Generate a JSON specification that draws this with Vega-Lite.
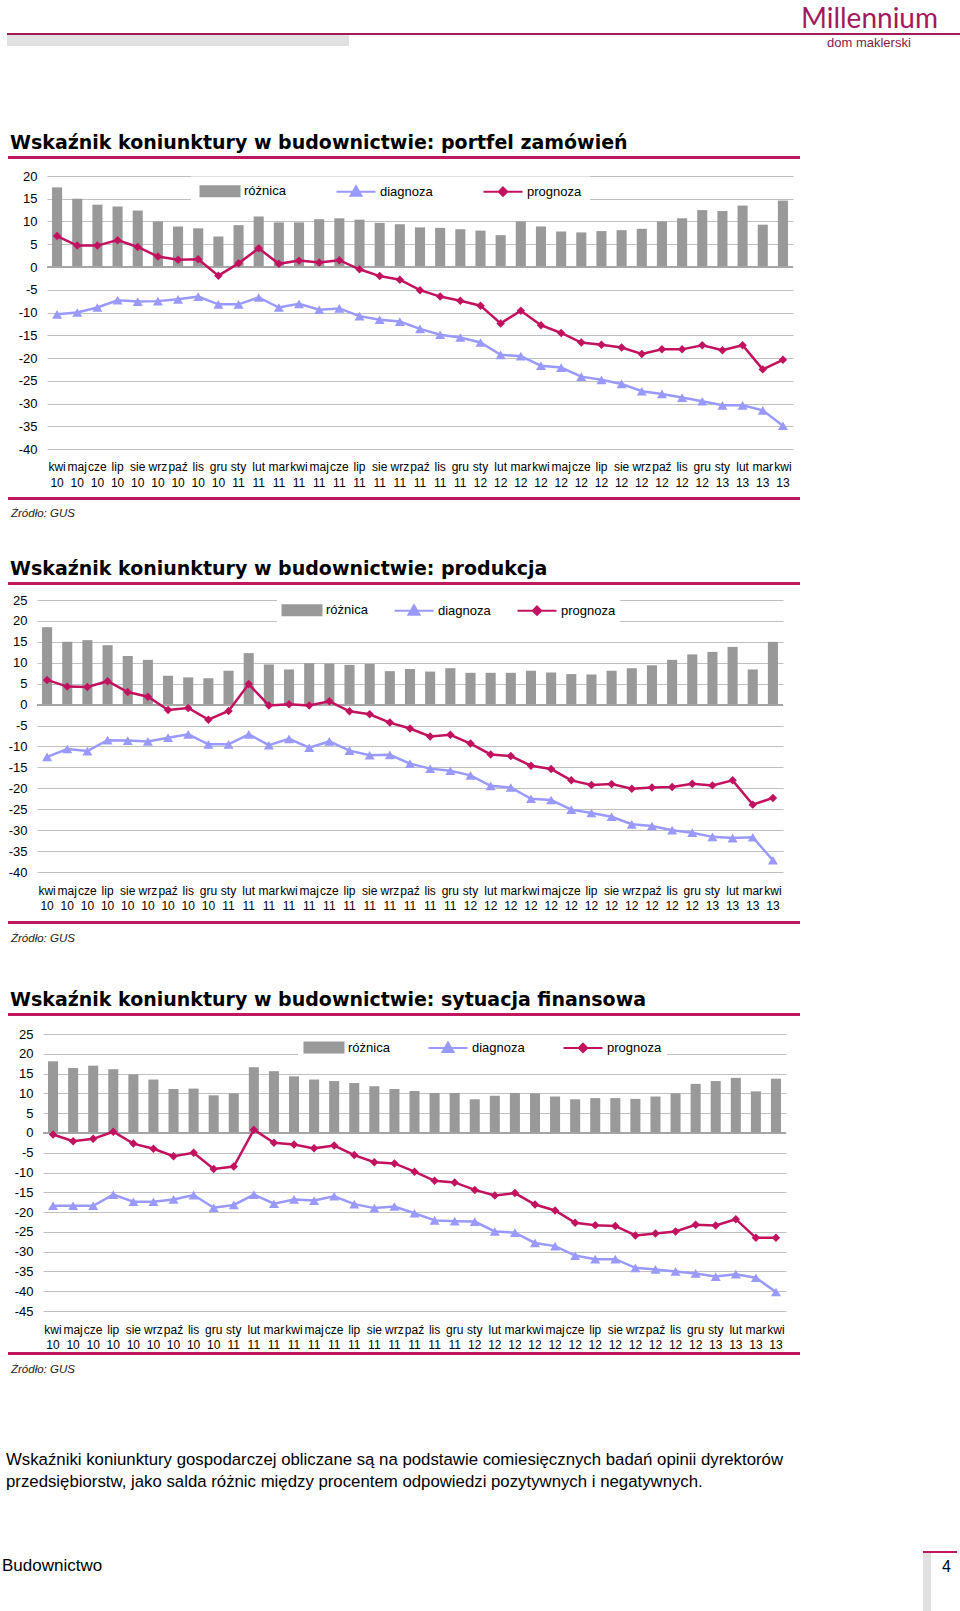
{
"$schema": "https://vega.github.io/schema/vega-lite/v6.json",
"background": "#ffffff",
"padding": {"left": 2, "top": 6, "right": 0, "bottom": 0},
"config": {"view": {"stroke": null}, "font": "Liberation Sans"},
"datasets": {
"portfel": [
{"m":"kwi 10","różnica":17.5,"diagnoza":-10.4,"prognoza":6.8},
{"m":"maj 10","różnica":15.0,"diagnoza":-10.0,"prognoza":4.7},
{"m":"cze 10","różnica":13.7,"diagnoza":-8.9,"prognoza":4.7},
{"m":"lip 10","różnica":13.3,"diagnoza":-7.3,"prognoza":5.9},
{"m":"sie 10","różnica":12.4,"diagnoza":-7.6,"prognoza":4.4},
{"m":"wrz 10","różnica":10.0,"diagnoza":-7.5,"prognoza":2.3},
{"m":"paź 10","różnica":8.9,"diagnoza":-7.1,"prognoza":1.6},
{"m":"lis 10","różnica":8.5,"diagnoza":-6.5,"prognoza":1.7},
{"m":"gru 10","różnica":6.7,"diagnoza":-8.2,"prognoza":-1.9},
{"m":"sty 11","różnica":9.2,"diagnoza":-8.2,"prognoza":0.8},
{"m":"lut 11","różnica":11.1,"diagnoza":-6.7,"prognoza":4.1},
{"m":"mar 11","różnica":9.8,"diagnoza":-8.9,"prognoza":0.7},
{"m":"kwi 11","różnica":9.8,"diagnoza":-8.1,"prognoza":1.4},
{"m":"maj 11","różnica":10.5,"diagnoza":-9.4,"prognoza":1.0},
{"m":"cze 11","różnica":10.7,"diagnoza":-9.1,"prognoza":1.5},
{"m":"lip 11","różnica":10.4,"diagnoza":-10.8,"prognoza":-0.5},
{"m":"sie 11","różnica":9.7,"diagnoza":-11.6,"prognoza":-2.0},
{"m":"wrz 11","różnica":9.4,"diagnoza":-12.0,"prognoza":-2.8},
{"m":"paź 11","różnica":8.7,"diagnoza":-13.6,"prognoza":-5.1},
{"m":"lis 11","różnica":8.6,"diagnoza":-14.9,"prognoza":-6.5},
{"m":"gru 11","różnica":8.3,"diagnoza":-15.5,"prognoza":-7.4},
{"m":"sty 12","różnica":8.0,"diagnoza":-16.6,"prognoza":-8.5},
{"m":"lut 12","różnica":7.0,"diagnoza":-19.3,"prognoza":-12.4},
{"m":"mar 12","różnica":10.0,"diagnoza":-19.6,"prognoza":-9.6},
{"m":"kwi 12","różnica":8.9,"diagnoza":-21.7,"prognoza":-12.8},
{"m":"maj 12","różnica":7.8,"diagnoza":-22.1,"prognoza":-14.5},
{"m":"cze 12","różnica":7.6,"diagnoza":-24.1,"prognoza":-16.6},
{"m":"lip 12","różnica":7.9,"diagnoza":-24.8,"prognoza":-17.1},
{"m":"sie 12","różnica":8.1,"diagnoza":-25.7,"prognoza":-17.7},
{"m":"wrz 12","różnica":8.4,"diagnoza":-27.3,"prognoza":-19.1},
{"m":"paź 12","różnica":10.0,"diagnoza":-27.9,"prognoza":-18.1},
{"m":"lis 12","różnica":10.7,"diagnoza":-28.7,"prognoza":-18.1},
{"m":"gru 12","różnica":12.5,"diagnoza":-29.5,"prognoza":-17.2},
{"m":"sty 13","różnica":12.3,"diagnoza":-30.4,"prognoza":-18.3},
{"m":"lut 13","różnica":13.5,"diagnoza":-30.4,"prognoza":-17.2},
{"m":"mar 13","różnica":9.3,"diagnoza":-31.5,"prognoza":-22.5},
{"m":"kwi 13","różnica":14.6,"diagnoza":-34.9,"prognoza":-20.4}
],
"produkcja": [
{"m":"kwi 10","różnica":18.5,"diagnoza":-12.5,"prognoza":5.9},
{"m":"maj 10","różnica":15.0,"diagnoza":-10.6,"prognoza":4.3},
{"m":"cze 10","różnica":15.4,"diagnoza":-11.1,"prognoza":4.2},
{"m":"lip 10","różnica":14.2,"diagnoza":-8.5,"prognoza":5.6},
{"m":"sie 10","różnica":11.6,"diagnoza":-8.6,"prognoza":3.0},
{"m":"wrz 10","różnica":10.7,"diagnoza":-8.8,"prognoza":1.9},
{"m":"paź 10","różnica":6.9,"diagnoza":-7.9,"prognoza":-1.3},
{"m":"lis 10","różnica":6.5,"diagnoza":-7.1,"prognoza":-0.8},
{"m":"gru 10","różnica":6.3,"diagnoza":-9.5,"prognoza":-3.6},
{"m":"sty 11","różnica":8.1,"diagnoza":-9.5,"prognoza":-1.5},
{"m":"lut 11","różnica":12.3,"diagnoza":-7.1,"prognoza":4.9},
{"m":"mar 11","różnica":9.6,"diagnoza":-9.7,"prognoza":-0.2},
{"m":"kwi 11","różnica":8.4,"diagnoza":-8.2,"prognoza":0.1},
{"m":"maj 11","różnica":9.9,"diagnoza":-10.3,"prognoza":-0.2},
{"m":"cze 11","różnica":9.8,"diagnoza":-8.8,"prognoza":0.8},
{"m":"lip 11","różnica":9.5,"diagnoza":-11.0,"prognoza":-1.6},
{"m":"sie 11","różnica":9.7,"diagnoza":-12.1,"prognoza":-2.3},
{"m":"wrz 11","różnica":8.0,"diagnoza":-12.0,"prognoza":-4.3},
{"m":"paź 11","różnica":8.5,"diagnoza":-14.1,"prognoza":-5.7},
{"m":"lis 11","różnica":7.9,"diagnoza":-15.3,"prognoza":-7.6},
{"m":"gru 11","różnica":8.7,"diagnoza":-15.8,"prognoza":-7.2},
{"m":"sty 12","różnica":7.6,"diagnoza":-16.9,"prognoza":-9.3},
{"m":"lut 12","różnica":7.6,"diagnoza":-19.4,"prognoza":-11.9},
{"m":"mar 12","różnica":7.6,"diagnoza":-19.8,"prognoza":-12.3},
{"m":"kwi 12","różnica":8.1,"diagnoza":-22.5,"prognoza":-14.6},
{"m":"maj 12","różnica":7.7,"diagnoza":-22.8,"prognoza":-15.4},
{"m":"cze 12","różnica":7.3,"diagnoza":-25.1,"prognoza":-18.1},
{"m":"lip 12","różnica":7.2,"diagnoza":-25.9,"prognoza":-19.2},
{"m":"sie 12","różnica":8.1,"diagnoza":-26.8,"prognoza":-19.0},
{"m":"wrz 12","różnica":8.7,"diagnoza":-28.6,"prognoza":-20.1},
{"m":"paź 12","różnica":9.4,"diagnoza":-29.0,"prognoza":-19.8},
{"m":"lis 12","różnica":10.7,"diagnoza":-30.0,"prognoza":-19.7},
{"m":"gru 12","różnica":12.0,"diagnoza":-30.6,"prognoza":-18.9},
{"m":"sty 13","różnica":12.6,"diagnoza":-31.6,"prognoza":-19.3},
{"m":"lut 13","różnica":13.8,"diagnoza":-31.9,"prognoza":-18.1},
{"m":"mar 13","różnica":8.4,"diagnoza":-31.7,"prognoza":-23.9},
{"m":"kwi 13","różnica":15.0,"diagnoza":-37.2,"prognoza":-22.3}
],
"finanse": [
{"m":"kwi 10","różnica":18.1,"diagnoza":-18.4,"prognoza":-0.4},
{"m":"maj 10","różnica":16.4,"diagnoza":-18.4,"prognoza":-2.1},
{"m":"cze 10","różnica":17.0,"diagnoza":-18.4,"prognoza":-1.5},
{"m":"lip 10","różnica":16.1,"diagnoza":-15.6,"prognoza":0.3},
{"m":"sie 10","różnica":14.8,"diagnoza":-17.4,"prognoza":-2.7},
{"m":"wrz 10","różnica":13.5,"diagnoza":-17.4,"prognoza":-4.0},
{"m":"paź 10","różnica":11.1,"diagnoza":-16.8,"prognoza":-5.9},
{"m":"lis 10","różnica":11.2,"diagnoza":-15.7,"prognoza":-5.0},
{"m":"gru 10","różnica":9.5,"diagnoza":-18.9,"prognoza":-9.1},
{"m":"sty 11","różnica":10.0,"diagnoza":-18.2,"prognoza":-8.5},
{"m":"lut 11","różnica":16.6,"diagnoza":-15.6,"prognoza":0.8},
{"m":"mar 11","różnica":15.6,"diagnoza":-17.9,"prognoza":-2.5},
{"m":"kwi 11","różnica":14.3,"diagnoza":-16.8,"prognoza":-2.9},
{"m":"maj 11","różnica":13.5,"diagnoza":-17.1,"prognoza":-3.9},
{"m":"cze 11","różnica":13.1,"diagnoza":-16.0,"prognoza":-3.2},
{"m":"lip 11","różnica":12.6,"diagnoza":-18.0,"prognoza":-5.6},
{"m":"sie 11","różnica":11.8,"diagnoza":-19.0,"prognoza":-7.4},
{"m":"wrz 11","różnica":11.1,"diagnoza":-18.6,"prognoza":-7.7},
{"m":"paź 11","różnica":10.6,"diagnoza":-20.3,"prognoza":-9.8},
{"m":"lis 11","różnica":10.1,"diagnoza":-22.1,"prognoza":-12.1},
{"m":"gru 11","różnica":10.1,"diagnoza":-22.3,"prognoza":-12.5},
{"m":"sty 12","różnica":8.5,"diagnoza":-22.4,"prognoza":-14.4},
{"m":"lut 12","różnica":9.4,"diagnoza":-24.9,"prognoza":-15.8},
{"m":"mar 12","różnica":10.1,"diagnoza":-25.2,"prognoza":-15.2},
{"m":"kwi 12","różnica":10.0,"diagnoza":-27.8,"prognoza":-18.1},
{"m":"maj 12","różnica":9.2,"diagnoza":-28.6,"prognoza":-19.6},
{"m":"cze 12","różnica":8.5,"diagnoza":-31.0,"prognoza":-22.7},
{"m":"lip 12","różnica":8.8,"diagnoza":-31.9,"prognoza":-23.3},
{"m":"sie 12","różnica":8.8,"diagnoza":-31.9,"prognoza":-23.5},
{"m":"wrz 12","różnica":8.6,"diagnoza":-34.1,"prognoza":-25.9},
{"m":"paź 12","różnica":9.2,"diagnoza":-34.5,"prognoza":-25.4},
{"m":"lis 12","różnica":10.0,"diagnoza":-35.0,"prognoza":-24.9},
{"m":"gru 12","różnica":12.4,"diagnoza":-35.5,"prognoza":-23.2},
{"m":"sty 13","różnica":13.1,"diagnoza":-36.3,"prognoza":-23.4},
{"m":"lut 13","różnica":13.9,"diagnoza":-35.7,"prognoza":-21.8},
{"m":"mar 13","różnica":10.5,"diagnoza":-36.6,"prognoza":-26.5},
{"m":"kwi 13","różnica":13.7,"diagnoza":-40.2,"prognoza":-26.5}
]
},
"spacing": 0,
"resolve": {"scale": {"color": "independent"}, "legend": {"color": "independent"}},
"vconcat": [
{"spacing": 0, "hconcat": [
 {"width": 5, "height": 2, "data": {"values": [{}]}, "mark": {"type": "point", "size": 0, "opacity": 0, "strokeWidth": 0}, "encoding": {}},
 {"width": 953, "height": 2, "view": {"fill": "#a3195b", "stroke": null}, "data": {"values": [{}]}, "mark": {"type": "point", "size": 0, "opacity": 0, "strokeWidth": 0}, "encoding": {},
  "title": {"text": "Millennium", "orient": "top", "anchor": "end", "frame": "group", "offset": -1, "dx": -22, "font": "Lato", "fontSize": 28, "fontWeight": "normal", "color": "#a3195b"}}
]},
{"spacing": 0, "hconcat": [
 {"width": 5, "height": 11, "data": {"values": [{}]}, "mark": {"type": "point", "size": 0, "opacity": 0, "strokeWidth": 0}, "encoding": {}},
 {"width": 342, "height": 11, "view": {"fill": "#e1e1e1", "stroke": null}, "data": {"values": [{}]}, "mark": {"type": "point", "size": 0, "opacity": 0, "strokeWidth": 0}, "encoding": {},
  "title": {"text": "dom maklerski", "orient": "top", "anchor": "start", "frame": "group", "offset": -15, "dx": 820, "font": "Liberation Sans", "fontSize": 13, "fontWeight": "normal", "color": "#7d1d48"}}
]},
{"width": 1, "height": 84, "data": {"values": [{}]}, "mark": {"type": "point", "size": 0, "opacity": 0, "strokeWidth": 0}, "encoding": {}},
{"spacing": 0, "hconcat": [
 {"width": 6, "height": 3, "data": {"values": [{}]}, "mark": {"type": "point", "size": 0, "opacity": 0, "strokeWidth": 0}, "encoding": {}},
 {"width": 792, "height": 3, "view": {"fill": "#c0185e", "stroke": null}, "data": {"values": [{}]}, "mark": {"type": "point", "size": 0, "opacity": 0, "strokeWidth": 0}, "encoding": {},
  "title": {"text": "Wskaźnik koniunktury w budownictwie: portfel zamówień", "orient": "top", "anchor": "start", "frame": "group", "offset": 3, "dx": 2, "font": "DejaVu Sans", "fontSize": 19, "fontWeight": "bold", "color": "#000000"}}
]},
{"width": 1, "height": 11, "data": {"values": [{}]}, "mark": {"type": "point", "size": 0, "opacity": 0, "strokeWidth": 0}, "encoding": {}},
{"spacing": 0, "resolve": {"scale": {"color": "independent"}, "legend": {"color": "independent"}}, "hconcat": [
 {"width": 16, "height": 1, "data": {"values": [{}]}, "mark": {"type": "point", "size": 0, "opacity": 0, "strokeWidth": 0}, "encoding": {}},
 {"width": 746, "height": 273, "data": {"name": "portfel"},
  "transform": [{"fold": ["różnica", "diagnoza", "prognoza"], "as": ["s", "v"]}],
  "layer": [
   {"transform": [{"filter": "datum.s === 'różnica'"}], "mark": {"type": "bar"},
    "encoding": {
     "x": {"field": "m", "type": "ordinal", "sort": null, "scale": {"domain": ["kwi 10","maj 10","cze 10","lip 10","sie 10","wrz 10","paź 10","lis 10","gru 10","sty 11","lut 11","mar 11","kwi 11","maj 11","cze 11","lip 11","sie 11","wrz 11","paź 11","lis 11","gru 11","sty 12","lut 12","mar 12","kwi 12","maj 12","cze 12","lip 12","sie 12","wrz 12","paź 12","lis 12","gru 12","sty 13","lut 13","mar 13","kwi 13"], "paddingInner": 0.5, "paddingOuter": 0.25},
      "axis": {"title": null, "labelAngle": 0, "labelExpr": "split(datum.label, ' ')", "labelFont": "Liberation Sans", "labelFontSize": 12, "labelLineHeight": 16, "labelPadding": 12, "labelColor": "#000000", "ticks": false, "tickSize": 0, "domain": false, "grid": false, "labelOverlap": false}},
     "y": {"field": "v", "type": "quantitative", "scale": {"domain": [-40, 20], "nice": false, "zero": false},
      "axis": {"title": null, "values": [20,15,10,5,0,-5,-10,-15,-20,-25,-30,-35,-40], "tickCount": 40, "labelExpr": "'' + datum.value", "labelOverlap": false, "grid": true, "gridColor": "#c0c0c0", "gridWidth": 1, "domain": false, "ticks": false, "tickSize": 0, "labelFont": "Liberation Sans", "labelFontSize": 13, "labelColor": "#000000", "labelPadding": 10}},
     "color": {"field": "s", "type": "nominal", "scale": {"domain": ["różnica", "diagnoza", "prognoza"], "range": ["#999999", "#9999ff", "#c2125f"]},
      "legend": {"orient": "none", "legendX": 144, "legendY": 0.5, "direction": "horizontal", "title": null, "padding": 8, "fillColor": "#ffffff", "columnPadding": 46, "symbolSize": 100, "symbolStrokeWidth": 2, "labelOffset": 32, "labelFont": "Liberation Sans", "labelFontSize": 13, "labelColor": "#000000",
       "encode": {"symbols": {"update": {
        "shape": {"signal": "datum.value === 'różnica' ? 'M-1,-1H6.8V1H-1Z' : datum.value === 'diagnoza' ? 'M-1,0H6.8M2.9,-1.1L4,0.8L1.8,0.8Z' : 'M-1,0H6.8M2.9,-0.85L3.75,0L2.9,0.85L2.05,0Z'"},
        "fill": {"signal": "datum.value === 'różnica' ? '#999999' : datum.value === 'diagnoza' ? '#9999ff' : '#c2125f'"},
        "stroke": {"signal": "datum.value === 'różnica' ? 'transparent' : datum.value === 'diagnoza' ? '#9999ff' : '#c2125f'"},
        "strokeWidth": {"value": 2}, "opacity": {"value": 1}, "fillOpacity": {"value": 1}, "strokeOpacity": {"value": 1}}}}}}
    }},
   {"mark": {"type": "rule", "color": "#a6a6a6", "strokeWidth": 1}, "encoding": {"y": {"datum": 0, "type": "quantitative"}}},
   {"transform": [{"filter": "datum.s !== 'różnica'"}], "mark": {"type": "line", "strokeWidth": 2.5},
    "encoding": {"x": {"field": "m", "type": "ordinal", "sort": null}, "y": {"field": "v", "type": "quantitative"},
     "color": {"field": "s", "type": "nominal", "scale": {"domain": ["różnica", "diagnoza", "prognoza"], "range": ["#999999", "#9999ff", "#c2125f"]}}}},
   {"transform": [{"filter": "datum.s === 'diagnoza'"}], "mark": {"type": "point", "shape": "triangle-up", "filled": true, "size": 100, "opacity": 1},
    "encoding": {"x": {"field": "m", "type": "ordinal", "sort": null}, "y": {"field": "v", "type": "quantitative"},
     "color": {"field": "s", "type": "nominal", "scale": {"domain": ["różnica", "diagnoza", "prognoza"], "range": ["#999999", "#9999ff", "#c2125f"]}}}},
   {"transform": [{"filter": "datum.s === 'prognoza'"}], "mark": {"type": "point", "shape": "diamond", "filled": true, "size": 72, "opacity": 1},
    "encoding": {"x": {"field": "m", "type": "ordinal", "sort": null}, "y": {"field": "v", "type": "quantitative"},
     "color": {"field": "s", "type": "nominal", "scale": {"domain": ["różnica", "diagnoza", "prognoza"], "range": ["#999999", "#9999ff", "#c2125f"]}}}}
  ]}
]},
{"width": 1, "height": 9, "data": {"values": [{}]}, "mark": {"type": "point", "size": 0, "opacity": 0, "strokeWidth": 0}, "encoding": {}},
{"spacing": 0, "hconcat": [
 {"width": 6, "height": 3, "data": {"values": [{}]}, "mark": {"type": "point", "size": 0, "opacity": 0, "strokeWidth": 0}, "encoding": {}},
 {"width": 792, "height": 3, "view": {"fill": "#c0185e", "stroke": null}, "data": {"values": [{}]}, "mark": {"type": "point", "size": 0, "opacity": 0, "strokeWidth": 0}, "encoding": {},
  "title": {"text": "Źródło: GUS", "orient": "bottom", "anchor": "start", "frame": "group", "offset": 8, "dx": 3, "font": "Liberation Sans", "fontSize": 11.5, "fontWeight": "normal", "fontStyle": "italic", "color": "#222222"}}
]},
{"width": 1, "height": 40, "data": {"values": [{}]}, "mark": {"type": "point", "size": 0, "opacity": 0, "strokeWidth": 0}, "encoding": {}},
{"spacing": 0, "hconcat": [
 {"width": 6, "height": 3, "data": {"values": [{}]}, "mark": {"type": "point", "size": 0, "opacity": 0, "strokeWidth": 0}, "encoding": {}},
 {"width": 792, "height": 3, "view": {"fill": "#c0185e", "stroke": null}, "data": {"values": [{}]}, "mark": {"type": "point", "size": 0, "opacity": 0, "strokeWidth": 0}, "encoding": {},
  "title": {"text": "Wskaźnik koniunktury w budownictwie: produkcja", "orient": "top", "anchor": "start", "frame": "group", "offset": 3, "dx": 2, "font": "DejaVu Sans", "fontSize": 19, "fontWeight": "bold", "color": "#000000"}}
]},
{"width": 1, "height": 9, "data": {"values": [{}]}, "mark": {"type": "point", "size": 0, "opacity": 0, "strokeWidth": 0}, "encoding": {}},
{"spacing": 0, "resolve": {"scale": {"color": "independent"}, "legend": {"color": "independent"}}, "hconcat": [
 {"width": 6, "height": 1, "data": {"values": [{}]}, "mark": {"type": "point", "size": 0, "opacity": 0, "strokeWidth": 0}, "encoding": {}},
 {"width": 746, "height": 272, "data": {"name": "produkcja"},
  "transform": [{"fold": ["różnica", "diagnoza", "prognoza"], "as": ["s", "v"]}],
  "layer": [
   {"transform": [{"filter": "datum.s === 'różnica'"}], "mark": {"type": "bar"},
    "encoding": {
     "x": {"field": "m", "type": "ordinal", "sort": null, "scale": {"domain": ["kwi 10","maj 10","cze 10","lip 10","sie 10","wrz 10","paź 10","lis 10","gru 10","sty 11","lut 11","mar 11","kwi 11","maj 11","cze 11","lip 11","sie 11","wrz 11","paź 11","lis 11","gru 11","sty 12","lut 12","mar 12","kwi 12","maj 12","cze 12","lip 12","sie 12","wrz 12","paź 12","lis 12","gru 12","sty 13","lut 13","mar 13","kwi 13"], "paddingInner": 0.5, "paddingOuter": 0.25},
      "axis": {"title": null, "labelAngle": 0, "labelExpr": "split(datum.label, ' ')", "labelFont": "Liberation Sans", "labelFontSize": 12, "labelLineHeight": 15, "labelPadding": 13, "labelColor": "#000000", "ticks": false, "tickSize": 0, "domain": false, "grid": false, "labelOverlap": false}},
     "y": {"field": "v", "type": "quantitative", "scale": {"domain": [-40, 25], "nice": false, "zero": false},
      "axis": {"title": null, "values": [25,20,15,10,5,0,-5,-10,-15,-20,-25,-30,-35,-40], "tickCount": 40, "labelExpr": "'' + datum.value", "labelOverlap": false, "grid": true, "gridColor": "#c0c0c0", "gridWidth": 1, "domain": false, "ticks": false, "tickSize": 0, "labelFont": "Liberation Sans", "labelFontSize": 13, "labelColor": "#000000", "labelPadding": 10}},
     "color": {"field": "s", "type": "nominal", "scale": {"domain": ["różnica", "diagnoza", "prognoza"], "range": ["#999999", "#9999ff", "#c2125f"]},
      "legend": {"orient": "none", "legendX": 240, "legendY": -0.5, "direction": "horizontal", "title": null, "padding": 4, "fillColor": "#ffffff", "columnPadding": 22, "symbolSize": 100, "symbolStrokeWidth": 2, "labelOffset": 32, "labelFont": "Liberation Sans", "labelFontSize": 13, "labelColor": "#000000",
       "encode": {"symbols": {"update": {
        "shape": {"signal": "datum.value === 'różnica' ? 'M-1,-1H6.8V1H-1Z' : datum.value === 'diagnoza' ? 'M-1,0H6.8M2.9,-1.1L4,0.8L1.8,0.8Z' : 'M-1,0H6.8M2.9,-0.85L3.75,0L2.9,0.85L2.05,0Z'"},
        "fill": {"signal": "datum.value === 'różnica' ? '#999999' : datum.value === 'diagnoza' ? '#9999ff' : '#c2125f'"},
        "stroke": {"signal": "datum.value === 'różnica' ? 'transparent' : datum.value === 'diagnoza' ? '#9999ff' : '#c2125f'"},
        "strokeWidth": {"value": 2}, "opacity": {"value": 1}, "fillOpacity": {"value": 1}, "strokeOpacity": {"value": 1}}}}}}
    }},
   {"mark": {"type": "rule", "color": "#a6a6a6", "strokeWidth": 1}, "encoding": {"y": {"datum": 0, "type": "quantitative"}}},
   {"transform": [{"filter": "datum.s !== 'różnica'"}], "mark": {"type": "line", "strokeWidth": 2.5},
    "encoding": {"x": {"field": "m", "type": "ordinal", "sort": null}, "y": {"field": "v", "type": "quantitative"},
     "color": {"field": "s", "type": "nominal", "scale": {"domain": ["różnica", "diagnoza", "prognoza"], "range": ["#999999", "#9999ff", "#c2125f"]}}}},
   {"transform": [{"filter": "datum.s === 'diagnoza'"}], "mark": {"type": "point", "shape": "triangle-up", "filled": true, "size": 100, "opacity": 1},
    "encoding": {"x": {"field": "m", "type": "ordinal", "sort": null}, "y": {"field": "v", "type": "quantitative"},
     "color": {"field": "s", "type": "nominal", "scale": {"domain": ["różnica", "diagnoza", "prognoza"], "range": ["#999999", "#9999ff", "#c2125f"]}}}},
   {"transform": [{"filter": "datum.s === 'prognoza'"}], "mark": {"type": "point", "shape": "diamond", "filled": true, "size": 72, "opacity": 1},
    "encoding": {"x": {"field": "m", "type": "ordinal", "sort": null}, "y": {"field": "v", "type": "quantitative"},
     "color": {"field": "s", "type": "nominal", "scale": {"domain": ["różnica", "diagnoza", "prognoza"], "range": ["#999999", "#9999ff", "#c2125f"]}}}}
  ]}
]},
{"width": 1, "height": 10, "data": {"values": [{}]}, "mark": {"type": "point", "size": 0, "opacity": 0, "strokeWidth": 0}, "encoding": {}},
{"spacing": 0, "hconcat": [
 {"width": 6, "height": 3, "data": {"values": [{}]}, "mark": {"type": "point", "size": 0, "opacity": 0, "strokeWidth": 0}, "encoding": {}},
 {"width": 792, "height": 3, "view": {"fill": "#c0185e", "stroke": null}, "data": {"values": [{}]}, "mark": {"type": "point", "size": 0, "opacity": 0, "strokeWidth": 0}, "encoding": {},
  "title": {"text": "Źródło: GUS", "orient": "bottom", "anchor": "start", "frame": "group", "offset": 9, "dx": 3, "font": "Liberation Sans", "fontSize": 11.5, "fontWeight": "normal", "fontStyle": "italic", "color": "#222222"}}
]},
{"width": 1, "height": 46, "data": {"values": [{}]}, "mark": {"type": "point", "size": 0, "opacity": 0, "strokeWidth": 0}, "encoding": {}},
{"spacing": 0, "hconcat": [
 {"width": 6, "height": 3, "data": {"values": [{}]}, "mark": {"type": "point", "size": 0, "opacity": 0, "strokeWidth": 0}, "encoding": {}},
 {"width": 792, "height": 3, "view": {"fill": "#c0185e", "stroke": null}, "data": {"values": [{}]}, "mark": {"type": "point", "size": 0, "opacity": 0, "strokeWidth": 0}, "encoding": {},
  "title": {"text": "Wskaźnik koniunktury w budownictwie: sytuacja finansowa", "orient": "top", "anchor": "start", "frame": "group", "offset": 3, "dx": 2, "font": "DejaVu Sans", "fontSize": 19, "fontWeight": "bold", "color": "#000000"}}
]},
{"width": 1, "height": 12, "data": {"values": [{}]}, "mark": {"type": "point", "size": 0, "opacity": 0, "strokeWidth": 0}, "encoding": {}},
{"spacing": 0, "resolve": {"scale": {"color": "independent"}, "legend": {"color": "independent"}}, "hconcat": [
 {"width": 12, "height": 1, "data": {"values": [{}]}, "mark": {"type": "point", "size": 0, "opacity": 0, "strokeWidth": 0}, "encoding": {}},
 {"width": 743, "height": 277, "data": {"name": "finanse"},
  "transform": [{"fold": ["różnica", "diagnoza", "prognoza"], "as": ["s", "v"]}],
  "layer": [
   {"transform": [{"filter": "datum.s === 'różnica'"}], "mark": {"type": "bar"},
    "encoding": {
     "x": {"field": "m", "type": "ordinal", "sort": null, "scale": {"domain": ["kwi 10","maj 10","cze 10","lip 10","sie 10","wrz 10","paź 10","lis 10","gru 10","sty 11","lut 11","mar 11","kwi 11","maj 11","cze 11","lip 11","sie 11","wrz 11","paź 11","lis 11","gru 11","sty 12","lut 12","mar 12","kwi 12","maj 12","cze 12","lip 12","sie 12","wrz 12","paź 12","lis 12","gru 12","sty 13","lut 13","mar 13","kwi 13"], "paddingInner": 0.5, "paddingOuter": 0.25},
      "axis": {"title": null, "labelAngle": 0, "labelExpr": "split(datum.label, ' ')", "labelFont": "Liberation Sans", "labelFontSize": 12, "labelLineHeight": 15, "labelPadding": 13, "labelColor": "#000000", "ticks": false, "tickSize": 0, "domain": false, "grid": false, "labelOverlap": false}},
     "y": {"field": "v", "type": "quantitative", "scale": {"domain": [-45, 25], "nice": false, "zero": false},
      "axis": {"title": null, "values": [25,20,15,10,5,0,-5,-10,-15,-20,-25,-30,-35,-40,-45], "tickCount": 40, "labelExpr": "'' + datum.value", "labelOverlap": false, "grid": true, "gridColor": "#c0c0c0", "gridWidth": 1, "domain": false, "ticks": false, "tickSize": 0, "labelFont": "Liberation Sans", "labelFontSize": 13, "labelColor": "#000000", "labelPadding": 10}},
     "color": {"field": "s", "type": "nominal", "scale": {"domain": ["różnica", "diagnoza", "prognoza"], "range": ["#999999", "#9999ff", "#c2125f"]},
      "legend": {"orient": "none", "legendX": 255, "legendY": 1.8, "direction": "horizontal", "title": null, "padding": 5, "fillColor": "#ffffff", "columnPadding": 34, "symbolSize": 100, "symbolStrokeWidth": 2, "labelOffset": 32, "labelFont": "Liberation Sans", "labelFontSize": 13, "labelColor": "#000000",
       "encode": {"symbols": {"update": {
        "shape": {"signal": "datum.value === 'różnica' ? 'M-1,-1H6.8V1H-1Z' : datum.value === 'diagnoza' ? 'M-1,0H6.8M2.9,-1.1L4,0.8L1.8,0.8Z' : 'M-1,0H6.8M2.9,-0.85L3.75,0L2.9,0.85L2.05,0Z'"},
        "fill": {"signal": "datum.value === 'różnica' ? '#999999' : datum.value === 'diagnoza' ? '#9999ff' : '#c2125f'"},
        "stroke": {"signal": "datum.value === 'różnica' ? 'transparent' : datum.value === 'diagnoza' ? '#9999ff' : '#c2125f'"},
        "strokeWidth": {"value": 2}, "opacity": {"value": 1}, "fillOpacity": {"value": 1}, "strokeOpacity": {"value": 1}}}}}}
    }},
   {"mark": {"type": "rule", "color": "#a6a6a6", "strokeWidth": 1}, "encoding": {"y": {"datum": 0, "type": "quantitative"}}},
   {"transform": [{"filter": "datum.s !== 'różnica'"}], "mark": {"type": "line", "strokeWidth": 2.5},
    "encoding": {"x": {"field": "m", "type": "ordinal", "sort": null}, "y": {"field": "v", "type": "quantitative"},
     "color": {"field": "s", "type": "nominal", "scale": {"domain": ["różnica", "diagnoza", "prognoza"], "range": ["#999999", "#9999ff", "#c2125f"]}}}},
   {"transform": [{"filter": "datum.s === 'diagnoza'"}], "mark": {"type": "point", "shape": "triangle-up", "filled": true, "size": 100, "opacity": 1},
    "encoding": {"x": {"field": "m", "type": "ordinal", "sort": null}, "y": {"field": "v", "type": "quantitative"},
     "color": {"field": "s", "type": "nominal", "scale": {"domain": ["różnica", "diagnoza", "prognoza"], "range": ["#999999", "#9999ff", "#c2125f"]}}}},
   {"transform": [{"filter": "datum.s === 'prognoza'"}], "mark": {"type": "point", "shape": "diamond", "filled": true, "size": 72, "opacity": 1},
    "encoding": {"x": {"field": "m", "type": "ordinal", "sort": null}, "y": {"field": "v", "type": "quantitative"},
     "color": {"field": "s", "type": "nominal", "scale": {"domain": ["różnica", "diagnoza", "prognoza"], "range": ["#999999", "#9999ff", "#c2125f"]}}}}
  ]}
]},
{"width": 1, "height": 2, "data": {"values": [{}]}, "mark": {"type": "point", "size": 0, "opacity": 0, "strokeWidth": 0}, "encoding": {}},
{"spacing": 0, "hconcat": [
 {"width": 6, "height": 3, "data": {"values": [{}]}, "mark": {"type": "point", "size": 0, "opacity": 0, "strokeWidth": 0}, "encoding": {}},
 {"width": 792, "height": 3, "view": {"fill": "#c0185e", "stroke": null}, "data": {"values": [{}]}, "mark": {"type": "point", "size": 0, "opacity": 0, "strokeWidth": 0}, "encoding": {},
  "title": {"text": "Źródło: GUS", "orient": "bottom", "anchor": "start", "frame": "group", "offset": 9, "dx": 3, "font": "Liberation Sans", "fontSize": 11.5, "fontWeight": "normal", "fontStyle": "italic", "color": "#222222"}}
]},
{"width": 1, "height": 75, "data": {"values": [{}]}, "mark": {"type": "point", "size": 0, "opacity": 0, "strokeWidth": 0}, "encoding": {}},
{"spacing": 0, "hconcat": [
 {"width": 4, "height": 1, "data": {"values": [{}]}, "mark": {"type": "point", "size": 0, "opacity": 0, "strokeWidth": 0}, "encoding": {}},
 {"width": 1, "height": 1, "data": {"values": [{}]}, "mark": {"type": "point", "size": 0, "opacity": 0, "strokeWidth": 0}, "encoding": {},
  "title": {"text": ["Wskaźniki koniunktury gospodarczej obliczane są na podstawie comiesięcznych badań opinii dyrektorów", "przedsiębiorstw, jako salda różnic między procentem odpowiedzi pozytywnych i negatywnych."], "orient": "bottom", "anchor": "start", "frame": "group", "offset": 0, "font": "Liberation Sans", "fontSize": 16.8, "lineHeight": 21.5, "fontWeight": "normal", "color": "#000000"}}
]},
{"width": 1, "height": 60, "data": {"values": [{}]}, "mark": {"type": "point", "size": 0, "opacity": 0, "strokeWidth": 0}, "encoding": {}},
{"spacing": 0, "hconcat": [
 {"width": 921, "height": 1, "data": {"values": [{}]}, "mark": {"type": "point", "size": 0, "opacity": 0, "strokeWidth": 0}, "encoding": {},
  "title": {"text": "Budownictwo", "orient": "bottom", "anchor": "start", "frame": "group", "offset": 6, "font": "Liberation Sans", "fontSize": 17, "fontWeight": "normal", "color": "#000000"}},
 {"spacing": 0, "vconcat": [
  {"width": 34, "height": 2, "view": {"fill": "#c0185e", "stroke": null}, "data": {"values": [{}]}, "mark": {"type": "point", "size": 0, "opacity": 0, "strokeWidth": 0}, "encoding": {}},
  {"spacing": 11, "hconcat": [
   {"width": 8, "height": 59, "view": {"fill": "#e1e1e1", "stroke": null}, "data": {"values": [{}]}, "mark": {"type": "point", "size": 0, "opacity": 0, "strokeWidth": 0}, "encoding": {}},
   {"width": 1, "height": 1, "data": {"values": [{}]}, "mark": {"type": "point", "size": 0, "opacity": 0, "strokeWidth": 0}, "encoding": {},
    "title": {"text": "4", "orient": "bottom", "anchor": "start", "frame": "group", "offset": 5, "font": "Liberation Sans", "fontSize": 16, "fontWeight": "normal", "color": "#000000"}}
  ]}
 ]}
]}
]
}
